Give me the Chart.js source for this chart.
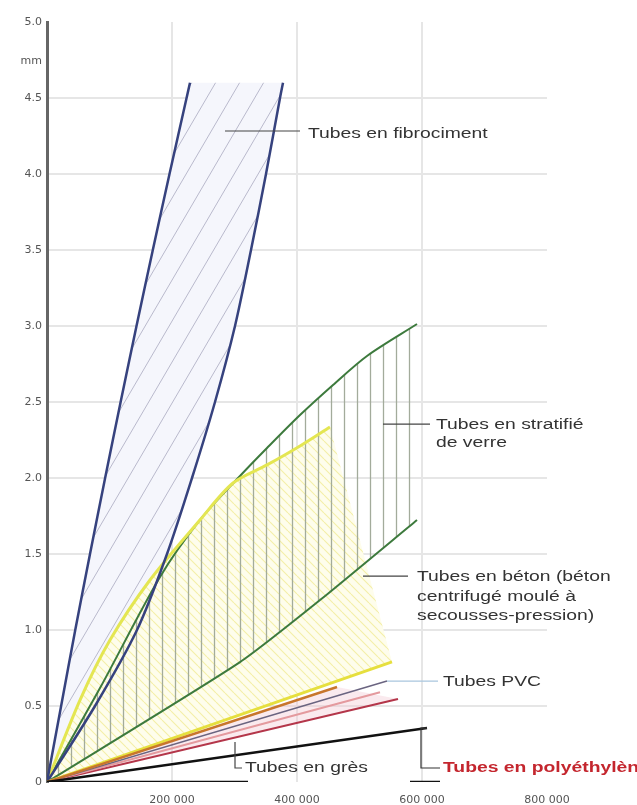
<!DOCTYPE html>
<html>
<head>
<meta charset="utf-8">
<script src="https://cdn.jsdelivr.net/npm/chart.js@4.4.1/dist/chart.umd.min.js"></script>
<style>html,body{margin:0;padding:0;background:#fff}</style>
</head>
<body>
<canvas id="chart" width="637" height="805"></canvas>
<script>
// valeurs : x = nombre, y = mm
const xTicks = [200000, 400000, 600000, 800000];
const yTicks = [0, 0.5, 1.0, 1.5, 2.0, 2.5, 3.0, 3.5, 4.0, 4.5, 5.0];

const fibroLeft  = [[0,0],[22600,0.5],[45200,1.0],[68800,1.5],[93000,2.0],[117800,2.5],[143200,3.0],[169300,3.5],[196000,4.0],[223300,4.5],[228800,4.6]];
const fibroRight = [[0,0],[76800,0.5],[144000,1.0],[192000,1.5],[232000,2.0],[268800,2.5],[300800,3.0],[326400,3.5],[350400,4.0],[372800,4.5],[377600,4.6]];
const verreUpper = [[0,0],[84800,0.618],[180800,1.349],[244800,1.724],[308800,2.013],[352000,2.197],[404800,2.414],[457600,2.612],[512000,2.803],[592000,3.013]];
const verreLower = [[0,0],[308800,0.789],[436800,1.197],[592000,1.724]];
const betonUpper = [[0,0],[52800,0.539],[100800,0.934],[164800,1.329],[244800,1.724],[297600,1.967],[352000,2.086],[404800,2.211],[452800,2.336]];
const betonLower = [[0,0],[552000,0.79]];
const pvcOrange  = [[0,0],[464000,0.625]];
const pvcGrey    = [[0,0],[544000,0.665]];
const gresPink   = [[0,0],[532800,0.59]];
const gresRed    = [[0,0],[561600,0.546]];
const polyLine   = [[0,0],[608000,0.355]];
const axisA      = [[0,0],[321600,0]];
const axisB      = [[580800,0],[628800,0]];

// traits de rappel des légendes
const leadFibro  = [[284800,4.283],[404800,4.283]];
const leadVerre  = [[537600,2.355],[612800,2.355]];
const leadBeton  = [[505600,1.355],[577600,1.355]];
const leadPvc    = [[544000,0.664],[625600,0.664]];
const leadGres   = [[300800,0.263],[300800,0.092],[312000,0.092]];
const leadPoly   = [[608000,0.355],[598400,0.355],[598400,0.092],[628800,0.092]];

const notes = [
  {text: 'Tubes en fibrociment', x: 417600, y: 4.263},
  {text: 'Tubes en stratifié', x: 622400, y: 2.349},
  {text: 'de verre', x: 622400, y: 2.230},
  {text: 'Tubes en béton (béton', x: 592000, y: 1.349},
  {text: 'centrifugé moulé à', x: 592000, y: 1.217},
  {text: 'secousses-pression)', x: 592000, y: 1.092},
  {text: 'Tubes PVC', x: 633600, y: 0.658},
  {text: 'Tubes en grès', x: 316800, y: 0.092},
  {text: 'Tubes en polyéthylène', x: 633600, y: 0.092, color: '#c4262e', bold: true}
];

const pts = a => a.map(p => ({x: p[0], y: p[1]}));
const shape = (a, b) => pts(a.concat(b.slice().reverse()));

function hatch(w, h, bg, color, lw, draw) {
  const c = document.createElement('canvas');
  c.width = w; c.height = h;
  const g = c.getContext('2d');
  if (bg) { g.fillStyle = bg; g.fillRect(0, 0, w, h); }
  g.strokeStyle = color; g.lineWidth = lw;
  g.beginPath(); draw(g, w, h); g.stroke();
  return g.createPattern(c, 'repeat');
}

const fibroPattern = hatch(24, 41, '#f5f6fc', '#b9b9cc', 1, (g, w, h) => {
  for (const o of [-w, 0, w]) { g.moveTo(o, h); g.lineTo(o + w, 0); }
});
const verrePattern = hatch(13, 4, null, '#a3ab9b', 1.3, (g, w, h) => {
  g.moveTo(6.5, 0); g.lineTo(6.5, h);
});
const betonPattern = hatch(9, 9, '#fefdec', '#f4efa8', 1.1, (g, w, h) => {
  for (const o of [-w, 0, w]) { g.moveTo(o, 0); g.lineTo(o + w, h); }
});

function area(data, bg, order) {
  return {data, showLine: true, fill: 'shape', backgroundColor: bg, borderWidth: 0,
          pointRadius: 0, tension: 0, order};
}
function line(data, color, width, order, tension) {
  return {data: pts(data), showLine: true, fill: false, borderColor: color, borderWidth: width,
          pointRadius: 0, tension: tension || 0, order};
}

const labelPlugin = {
  id: 'labels',
  afterDatasetsDraw(chart) {
    const {ctx, scales: {x, y}} = chart;
    ctx.save();
    ctx.textBaseline = 'middle';
    notes.forEach(n => {
      ctx.font = (n.bold ? 'bold ' : '') + '14px "Liberation Sans", Arial, sans-serif';
      ctx.fillStyle = n.color || '#333';
      ctx.save();
      ctx.translate(x.getPixelForValue(n.x), y.getPixelForValue(n.y));
      ctx.scale(1.38, 1);
      ctx.fillText(n.text, 0, 0);
      ctx.restore();
    });
    ctx.font = '11px "DejaVu Sans", sans-serif';
    ctx.textAlign = 'right';
    ctx.fillStyle = '#555';
    ctx.fillText('mm', x.left - 5, y.getPixelForValue(4.74));
    ctx.restore();
  }
};

new Chart(document.getElementById('chart'), {
  type: 'scatter',
  data: {
    datasets: [
      area(shape(fibroLeft, fibroRight), fibroPattern, 100),
      area(shape(betonUpper, betonLower), betonPattern, 90),
      area(shape(verreUpper, verreLower), verrePattern, 80),
      area(shape(pvcOrange, gresRed), 'rgba(240,196,206,0.35)', 75),
      line(verreUpper, '#3d7a3d', 2, 40, 0.3),
      line(verreLower, '#3d7a3d', 2, 40, 0.2),
      line(betonUpper, '#e4e652', 3, 35, 0.3),
      line(fibroLeft, '#36427e', 2.5, 30, 0.3),
      line(fibroRight, '#36427e', 2.5, 30, 0.3),
      line(betonLower, '#e6df3e', 3, 25),
      line(pvcOrange, '#c8762c', 2.5, 20),
      line(pvcGrey, '#6a6480', 1.5, 20),
      line(gresPink, '#e49a9e', 2, 20),
      line(gresRed, '#b4364a', 2, 20),
      line(polyLine, '#111', 2.5, 10),
      line(axisA, '#111', 2.5, 10),
      line(axisB, '#111', 2.5, 10),
      line(leadFibro, '#444', 1.2, 5),
      line(leadVerre, '#444', 1.2, 5),
      line(leadBeton, '#444', 1.2, 5),
      line(leadPvc, '#a9c6de', 1.2, 5),
      line(leadGres, '#444', 1.2, 5),
      line(leadPoly, '#333', 1.2, 5)
    ]
  },
  options: {
    responsive: false,
    animation: false,
    layout: {padding: {top: 22, right: 90, left: 0, bottom: 0}},
    plugins: {legend: {display: false}, tooltip: {enabled: false}},
    scales: {
      x: {
        type: 'linear', min: 0, max: 800000,
        afterBuildTicks: s => { s.ticks = [0].concat(xTicks).map(v => ({value: v})); },
        afterFit: s => { s.height = 23; },
        border: {display: false},
        grid: {drawTicks: false, lineWidth: 2,
               color: c => (c.tick && xTicks.slice(0, 3).includes(c.tick.value)) ? '#e6e6e6' : 'rgba(0,0,0,0)'},
        ticks: {
          padding: 12, maxRotation: 0, autoSkip: false, color: '#555',
          font: {family: 'DejaVu Sans', size: 11},
          callback: v => v === 0 ? '' : (v / 1000) + ' 000'
        }
      },
      y: {
        type: 'linear', min: 0, max: 5,
        afterBuildTicks: s => { s.ticks = yTicks.map(v => ({value: v})); },
        afterFit: s => { s.width = 47; },
        border: {display: true, color: '#666', width: 3},
        grid: {drawTicks: false, lineWidth: 2,
               color: c => (c.tick && c.tick.value > 0 && c.tick.value < 5) ? '#e6e6e6' : 'rgba(0,0,0,0)'},
        ticks: {
          padding: 5, color: '#555',
          font: {family: 'DejaVu Sans', size: 11},
          callback: v => v === 0 ? '0' : v.toFixed(1)
        }
      }
    }
  },
  plugins: [labelPlugin]
});
</script>
</body>
</html>
